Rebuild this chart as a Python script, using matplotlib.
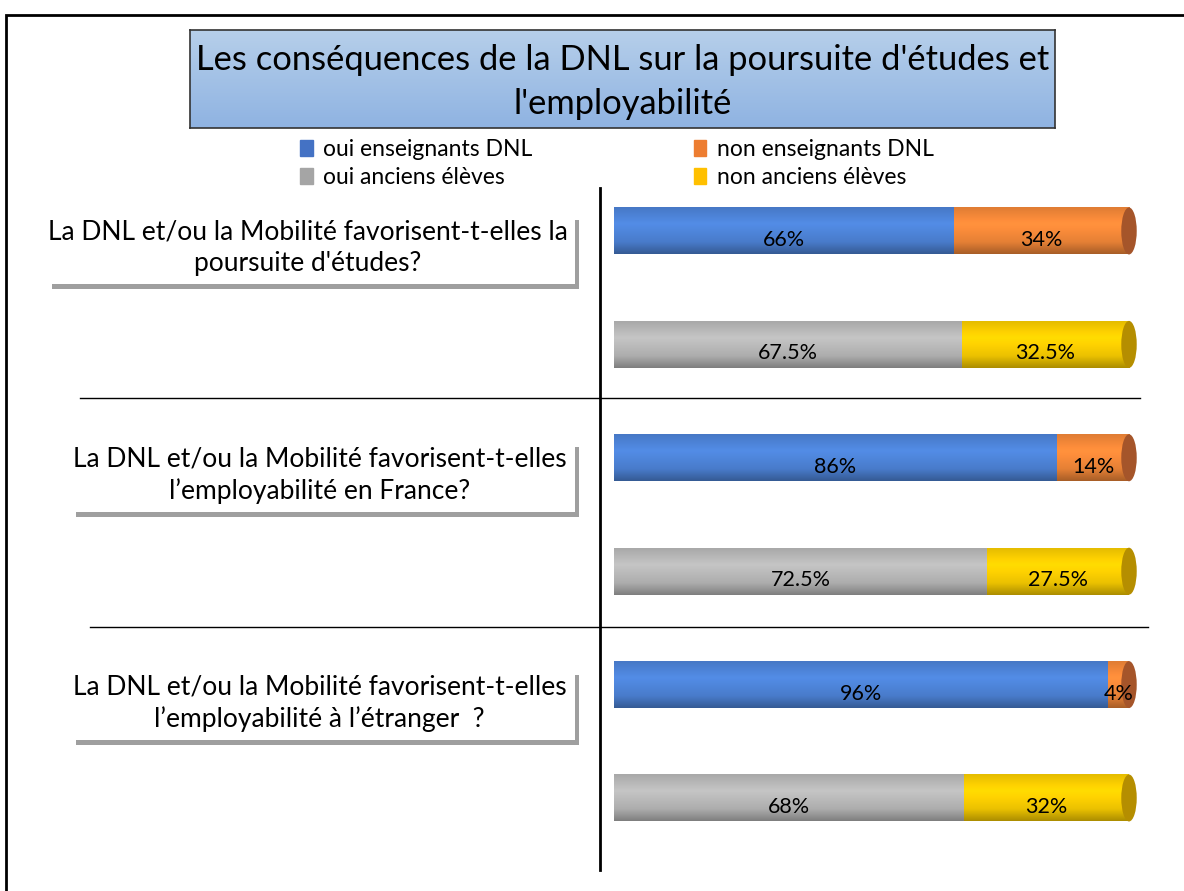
import matplotlib
matplotlib.use("Agg")
import matplotlib.pyplot as plt
import numpy as np
from matplotlib.patches import Rectangle, Ellipse, Patch
from matplotlib.lines import Line2D
from matplotlib.colors import to_rgb

plt.rcParams["font.family"] = ["Lato", "DejaVu Sans"]

# ── data ──────────────────────────────────────────────────────────────────────
title = "Les conséquences de la DNL sur la poursuite d'études et\nl'employabilité"
questions = [
    "La DNL et/ou la Mobilité favorisent-t-elles la\npoursuite d'études?",
    "La DNL et/ou la Mobilité favorisent-t-elles\nl\u2019employabilité en France?",
    "La DNL et/ou la Mobilité favorisent-t-elles\nl\u2019employabilité à l\u2019étranger  ?",
]
series_names = ["oui enseignants DNL", "non enseignants DNL",
                "oui anciens élèves", "non anciens élèves"]
oui_ens = [66, 86, 96]
non_ens = [34, 14, 4]
oui_anc = [67.5, 72.5, 68]
non_anc = [32.5, 27.5, 32]

C_BLUE, C_ORANGE, C_GRAY, C_YELLOW = "#4f86dc", "#f98b3a", "#bcbcbc", "#ffd200"
CAP = {C_ORANGE: "#a5552a", C_YELLOW: "#b58e00"}

W, H = 1184, 891
fig = plt.figure(figsize=(W / 100, H / 100), dpi=100)


def fx(x):
    return x / W


def fy(y):
    return 1 - y / H


# outer frame
fig.patches.append(Rectangle((fx(6), -0.05), 1.2, fy(15) + 0.05, transform=fig.transFigure,
                             fill=False, lw=2, ec="black"))

# ── title box ────────────────────────────────────────────────────────────────
ax_t = fig.add_axes([fx(190), fy(128), (1055 - 190) / W, (128 - 30) / H])
top, bot = np.array(to_rgb("#b6cfea")), np.array(to_rgb("#8fb3e2"))
t = np.linspace(0, 1, 64)[:, None]
grad = top + (bot - top) * t
ax_t.imshow(grad[:, None, :].repeat(2, axis=1), aspect="auto", extent=(0, 1, 0, 1))
ax_t.set_xticks([]); ax_t.set_yticks([])
for s in ax_t.spines.values():
    s.set_color("#333333"); s.set_linewidth(1.2)
ax_t.text(0.5, 0.47, title, ha="center", va="center", fontsize=24.8,
          linespacing=1.45, transform=ax_t.transAxes)

# ── bars ──────────────────────────────────────────────────────────────────────
ax = fig.add_axes([fx(614), fy(870), (1129 - 614) / W, (870 - 188) / H])
bar_h = 0.414
cap_w = 3.0


def shaded(color):
    rgb = np.array(to_rgb(color))
    tt = np.linspace(0, 1, 40)
    f = np.interp(tt, [0, 0.35, 0.75, 1], [0.9, 1.05, 0.92, 0.68])
    return np.clip(rgb[None, :] * f[:, None], 0, 1)[:, None, :].repeat(2, axis=1)


rows = []
for i in range(len(questions)):
    rows.append((2 * i, oui_ens[i], non_ens[i], C_BLUE, C_ORANGE))
    rows.append((2 * i + 1, oui_anc[i], non_anc[i], C_GRAY, C_YELLOW))

for y, v1, v2, c1, c2 in rows:
    for left, w, c in [(0, v1, c1), (v1, v2, c2)]:
        ax.imshow(shaded(c), aspect="auto", extent=(left, left + w, y + bar_h / 2, y - bar_h / 2),
                  zorder=2, interpolation="bilinear")
        ax.text(left + w / 2, y + 0.08, f"{w:g}%", ha="center", va="center",
                fontsize=15.5, zorder=5)
    ax.add_patch(Ellipse((v1 + v2, y), cap_w, bar_h, fc=CAP[c2], ec="none",
                         clip_on=False, zorder=3))

ax.set_xlim(0, 100)
ax.set_ylim(5.635, -0.379)
ax.axis("off")

# ── separators and axis line ─────────────────────────────────────────────────
fig.add_artist(Line2D([fx(600), fx(600)], [fy(188), fy(870)], color="black", lw=2))
fig.add_artist(Line2D([fx(80), fx(1140)], [fy(398), fy(398)], color="black", lw=1))
fig.add_artist(Line2D([fx(90), fx(1148)], [fy(627), fy(627)], color="black", lw=1))

# ── question boxes ───────────────────────────────────────────────────────────
boxes = [(48, 215, 575, 284), (72, 442, 575, 512), (72, 670, 575, 740)]
for (x0, y0, x1, y1), q in zip(boxes, questions):
    fig.patches.append(Rectangle((fx(x0 + 4), fy(y1 + 5)), (x1 - x0) / W, (y1 - y0) / H,
                                 transform=fig.transFigure, fc="#777777", ec="none", alpha=0.7))
    fig.patches.append(Rectangle((fx(x0), fy(y1)), (x1 - x0) / W, (y1 - y0) / H,
                                 transform=fig.transFigure, fc="white", ec="none"))
    fig.text(fx((x0 + x1) / 2 - 4), fy((y0 + y1) / 2 - 2), q, ha="center", va="center",
             fontsize=19, linespacing=1.3)

# ── legend ───────────────────────────────────────────────────────────────────
handles = [Patch(color=c) for c in ["#4472C4", "#A5A5A5", "#ED7D31", "#FFC000"]]
labels = [series_names[0], series_names[2], series_names[1], series_names[3]]
fig.legend(handles, labels, ncol=2, loc="upper left", bbox_to_anchor=(fx(291), fy(130)),
           frameon=False, fontsize=16.5, handlelength=0.55, handleheight=0.7,
           handletextpad=0.45, columnspacing=7.05, labelspacing=0.3, borderaxespad=0)

fig.savefig("out.png", dpi=100)
